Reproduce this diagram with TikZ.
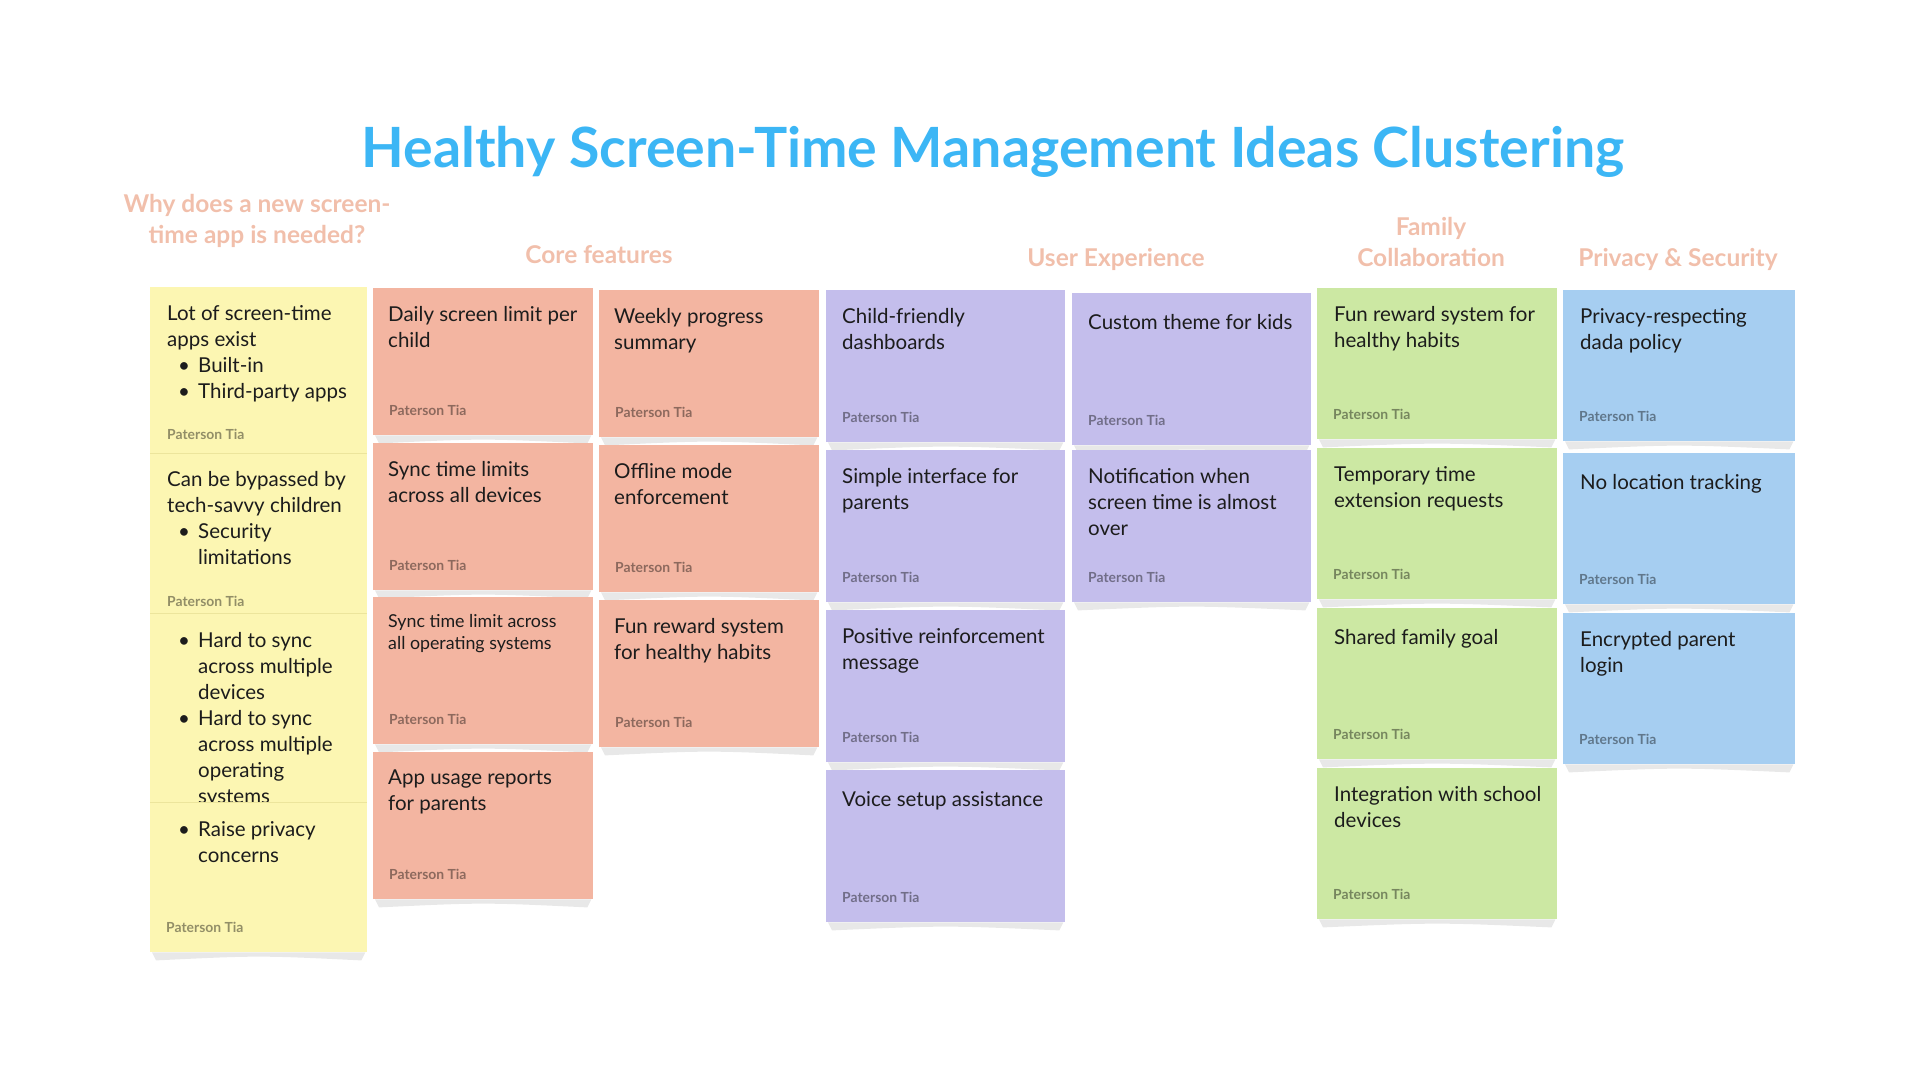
\documentclass[tikz,border=0pt]{standalone}
\usepackage{fontspec}
\setmainfont{Lato}
\usetikzlibrary{positioning}
\definecolor{titlec}{HTML}{3CB6F5}
\definecolor{headc}{HTML}{F1BFAB}
\definecolor{whyc}{HTML}{FCF6B2}
\definecolor{whyline}{HTML}{ECE59C}
\definecolor{corec}{HTML}{F3B5A1}
\definecolor{uxc}{HTML}{C4BEEC}
\definecolor{famc}{HTML}{CCE8A3}
\definecolor{privc}{HTML}{A6CEF1}
\definecolor{ink}{HTML}{1C1C1C}
\newcommand{\ideabullet}{\makebox[31pt][l]{\hspace{11pt}\textbullet}}
\newcommand{\ideaindent}{\hspace*{31pt}}
\begin{document}
\begin{tikzpicture}[x=1pt, y=-1pt,
  sheet/.style={rectangle, anchor=north west, inner sep=0pt},
  curl/.style={fill=black!9},
  card/.style={sheet, label={[author, xshift=16pt, yshift=20pt]south west:Paterson Tia},
    append after command={\pgfextra{\fill[curl] ([xshift=2pt]\tikzlastnode.south west)
      -- ([xshift=6pt, yshift=-8pt]\tikzlastnode.south west)
      .. controls ([yshift=-3pt]\tikzlastnode.south) .. ([xshift=-6pt, yshift=-8pt]\tikzlastnode.south east)
      -- ([xshift=-2pt]\tikzlastnode.south east) -- cycle;}}},
  why/.style={sheet, fill=whyc, minimum width=217pt},
  core/.style={card, fill=corec, minimum width=220pt, minimum height=147pt},
  ux/.style={card, fill=uxc, minimum width=239pt, minimum height=152pt},
  fam/.style={card, fill=famc, minimum width=240pt, minimum height=151pt},
  priv/.style={card, fill=privc, minimum width=232pt, minimum height=151pt},
  note/.style={anchor=north west, inner sep=0pt, align=left, text=ink,
    font=\fontsize{20.5}{26}\selectfont, execute at begin node=\strut},
  small note/.style={note, font=\fontsize{17.8}{22}\selectfont},
  author/.style={anchor=base west, inner sep=0pt, text=black, text opacity=0.42,
    font=\fontsize{13.9}{16}\selectfont\bfseries},
  head/.style={align=center, text=headc, font=\fontsize{24.5}{31}\selectfont\bfseries},
]
\useasboundingbox (0,0) rectangle (1920,1080);

% Title and cluster headings
\node[text=titlec, font=\fontsize{55.5}{62}\selectfont\bfseries] (title) at (993,152) {Healthy Screen-Time Management Ideas Clustering};
\node[head] (whyhead) at (257,221) {Why does a new screen-\\time app is needed?};
\node[head] (corehead) at (599,255) {Core features};
\node[head] (uxhead) at (1116,259) {User Experience};
\node[head] (famhead) at (1431,242) {Family\\Collaboration};
\node[head] (privhead) at (1678,259) {Privacy \& Security};

% Why column (one long note in four parts)
\node[why, minimum height=166pt, label={[author, xshift=17pt, yshift=14pt]south west:Paterson Tia}] (why1) at (150,287) {};
\node[note, below right=18pt and 17pt of why1.north west] (why1t) {Lot of screen-time\\apps exist\\\ideabullet Built-in\\\ideabullet Third-party apps};
\node[why, minimum height=160pt, label={[author, xshift=17pt, yshift=7pt]south west:Paterson Tia}] (why2) at (150,453) {};
\node[note, below right=18pt and 17pt of why2.north west] (why2t) {Can be bypassed by\\tech-savvy children\\\ideabullet Security\\\ideaindent limitations};
\node[why, minimum height=189pt] (why3) at (150,613) {};
\node[note, below right=19pt and 17pt of why3.north west] (why3t) {\ideabullet Hard to sync\\\ideaindent across multiple\\\ideaindent devices\\\ideabullet Hard to sync\\\ideaindent across multiple\\\ideaindent operating\\\ideaindent systems};
\node[why, card, minimum height=150pt] (why4) at (150,802) {};
\node[note, below right=19pt and 17pt of why4.north west] (why4t) {\ideabullet Raise privacy\\\ideaindent concerns};
\draw[whyline] (why2.north west) -- (why2.north east);
\draw[whyline] (why3.north west) -- (why3.north east);
\draw[whyline] (why4.north west) -- (why4.north east);

% Core features
\node[core] (core1) at (373,288) {};
\node[note, below right=18pt and 15pt of core1.north west] (core1t) {Daily screen limit per\\child};
\node[core] (core2) at (373,443) {};
\node[note, below right=18pt and 15pt of core2.north west] (core2t) {Sync time limits\\across all devices};
\node[core] (core3) at (373,597) {};
\node[small note, below right=17pt and 15pt of core3.north west] (core3t) {Sync time limit across\\all operating systems};
\node[core] (core4) at (373,752) {};
\node[note, below right=18pt and 15pt of core4.north west] (core4t) {App usage reports\\for parents};
\node[core] (core5) at (599,290) {};
\node[note, below right=18pt and 15pt of core5.north west] (core5t) {Weekly progress\\summary};
\node[core] (core6) at (599,445) {};
\node[note, below right=18pt and 15pt of core6.north west] (core6t) {Offline mode\\enforcement};
\node[core] (core7) at (599,600) {};
\node[note, below right=18pt and 15pt of core7.north west] (core7t) {Fun reward system\\for healthy habits};

% User experience
\node[ux] (ux1) at (826,290) {};
\node[note, below right=18pt and 16pt of ux1.north west] (ux1t) {Child-friendly\\dashboards};
\node[ux] (ux2) at (826,450) {};
\node[note, below right=18pt and 16pt of ux2.north west] (ux2t) {Simple interface for\\parents};
\node[ux] (ux3) at (826,610) {};
\node[note, below right=18pt and 16pt of ux3.north west] (ux3t) {Positive reinforcement\\message};
\node[ux] (ux4) at (826,770) {};
\node[note, below right=18pt and 16pt of ux4.north west] (ux4t) {Voice setup assistance};
\node[ux] (ux5) at (1072,293) {};
\node[note, below right=18pt and 16pt of ux5.north west] (ux5t) {Custom theme for kids};
\node[ux] (ux6) at (1072,450) {};
\node[note, below right=18pt and 16pt of ux6.north west] (ux6t) {Notification when\\screen time is almost\\over};

% Family collaboration
\node[fam] (fam1) at (1317,288) {};
\node[note, below right=18pt and 17pt of fam1.north west] (fam1t) {Fun reward system for\\healthy habits};
\node[fam] (fam2) at (1317,448) {};
\node[note, below right=18pt and 17pt of fam2.north west] (fam2t) {Temporary time\\extension requests};
\node[fam] (fam3) at (1317,608) {};
\node[note, below right=18pt and 17pt of fam3.north west] (fam3t) {Shared family goal};
\node[fam] (fam4) at (1317,768) {};
\node[note, below right=18pt and 17pt of fam4.north west] (fam4t) {Integration with school\\devices};

% Privacy and security
\node[priv] (priv1) at (1563,290) {};
\node[note, below right=18pt and 17pt of priv1.north west] (priv1t) {Privacy-respecting\\dada policy};
\node[priv] (priv2) at (1563,453) {};
\node[note, below right=18pt and 17pt of priv2.north west] (priv2t) {No location tracking};
\node[priv] (priv3) at (1563,613) {};
\node[note, below right=18pt and 17pt of priv3.north west] (priv3t) {Encrypted parent\\login};

\end{tikzpicture}
\end{document}
